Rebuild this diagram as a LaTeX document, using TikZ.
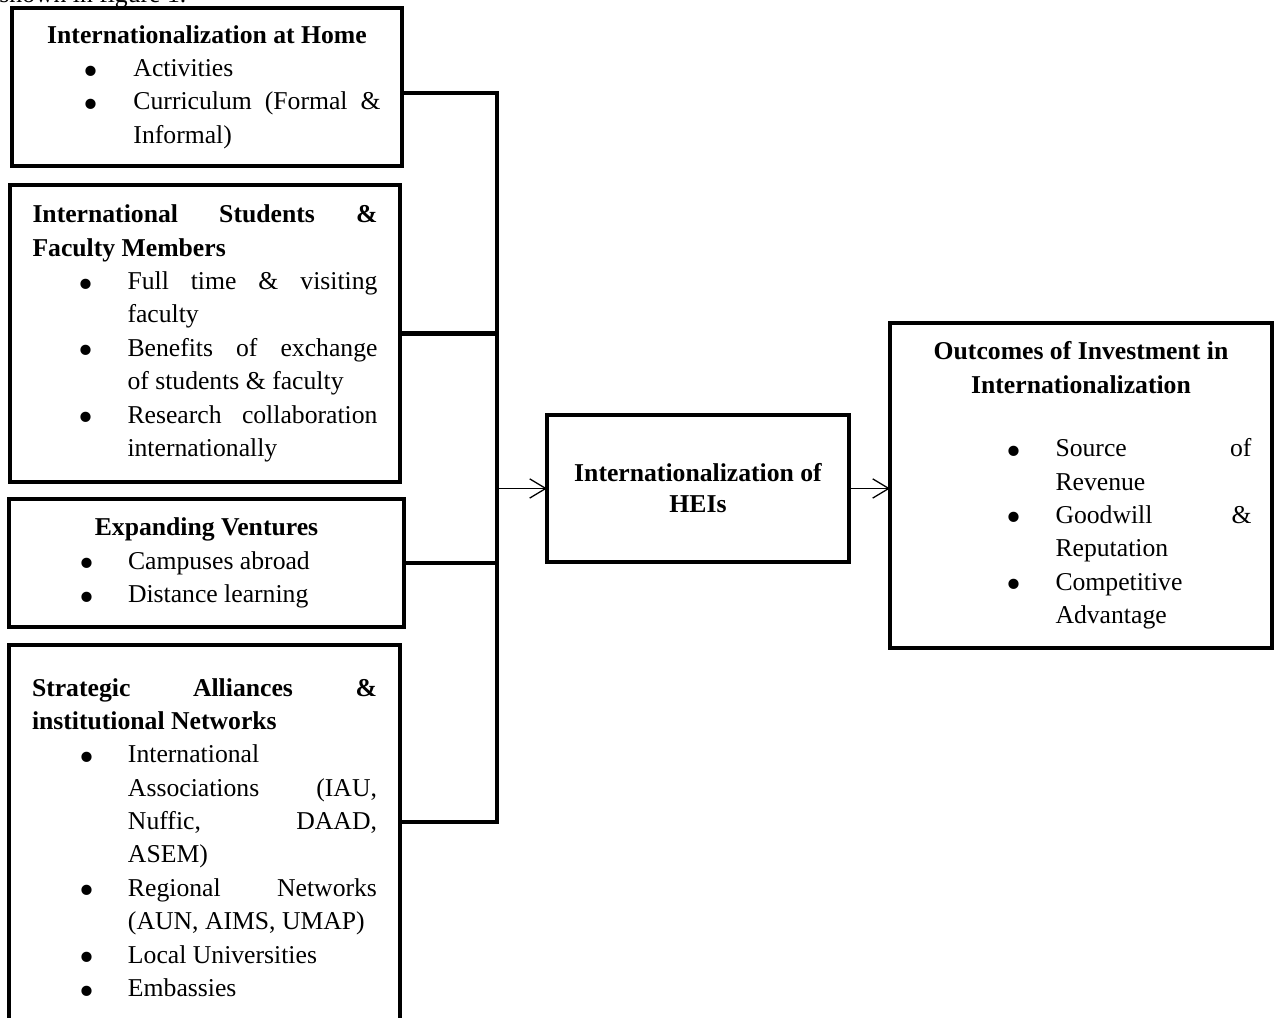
\documentclass[tikz,border=0pt]{standalone}
\usepackage{fontspec}
\setmainfont{Liberation Serif}
\usepackage{enumitem}
\usetikzlibrary{arrows.meta,positioning}
\newlength\px
\setlength\px{0.4673pt}
\newcommand{\fillline}[1]{\makebox[\linewidth][s]{#1}}
\newcommand{\boxtitle}[1]{\makebox[\linewidth][c]{\bfseries #1}}
\newcommand{\bigdot}{\smash{\raisebox{-4pt}{\fontsize{20pt}{20pt}\selectfont\textbullet}}}
\setlist[itemize]{label=\bigdot, nosep, labelsep=34\px, leftmargin=95\px}
\tikzset{
  factor/.style={draw, line width=2pt, anchor=north west, outer sep=0pt, inner xsep=0pt, inner ysep=0pt, align=justify, font=\fontsize{12pt}{15.6pt}\selectfont},
  link/.style={line width=1.9pt},
  arr/.style={line width=0.6pt, -{Straight Barb[length=7.5pt,width=9pt]}}
}

\begin{document}
\begin{tikzpicture}[x=0.4673pt, y=-0.4673pt]
  \useasboundingbox (0,0) rectangle (1274,1018);
  \node[anchor=base west, inner sep=0pt, font=\fontsize{12pt}{14pt}\selectfont] (cut) at (-1,3) {shown in figure 1.};

  % drivers
  \node[factor, minimum width=390\px, minimum height=158\px, text width=347\px] (home) at (12,8) {%
    \boxtitle{Internationalization at Home}
    \begin{itemize}[leftmargin=100\px, labelsep=35\px]
      \item Activities
      \item \fillline{Curriculum (Formal \&}\\Informal)
    \end{itemize}};
  \node[factor, minimum width=390\px, minimum height=297\px, text width=345\px] (staff) at (10,185) {%
    \fillline{\bfseries International Students \&}\\
    \textbf{Faculty Members}
    \begin{itemize}
      \item \fillline{Full time \& visiting}\\faculty
      \item \fillline{Benefits of exchange}\\of students \& faculty
      \item \fillline{Research collaboration}\\internationally
    \end{itemize}};
  \node[factor, minimum width=395\px, minimum height=128\px, text width=347\px] (ventures) at (9,499) {%
    \boxtitle{Expanding Ventures}
    \begin{itemize}
      \item Campuses abroad
      \item Distance learning
    \end{itemize}};
  \node[factor, minimum width=391\px, minimum height=385\px, text width=345\px] (alliance) at (9,645) {%
    \fillline{\bfseries Strategic Alliances \&}\\
    \textbf{institutional Networks}
    \begin{itemize}[leftmargin=96\px]
      \item International\\\fillline{Associations (IAU,}\\\fillline{Nuffic, DAAD,}\\ASEM)
      \item \fillline{Regional Networks}\\(AUN, AIMS, UMAP)
      \item Local Universities
      \item Embassies
    \end{itemize}};

  % centre and outcome
  \node[factor, minimum width=302\px, minimum height=147\px, align=center, font=\fontsize{12pt}{14.5pt}\selectfont\bfseries] (hei) at (547,415) {Internationalization of\\HEIs};
  \node[factor, minimum width=382\px, minimum height=325\px, text width=341\px] (out) at (890,323) {%
    \boxtitle{Outcomes of Investment in}\\
    \boxtitle{Internationalization}\par\vspace{14pt}
    \begin{itemize}[leftmargin=145\px, labelsep=34\px]
      \item \fillline{Source of}\\Revenue
      \item \fillline{Goodwill \&}\\Reputation
      \item Competitive\\Advantage
    \end{itemize}};

  % bracket joining the four drivers
  \coordinate (trunktop) at (497,93);
  \coordinate (trunkbot) at (497,822);
  \draw[link] (home.east |- trunktop) -- (trunktop) -- (trunkbot) -- (alliance.east |- trunkbot);
  \draw[link] (staff.east) -- (staff.east -| trunktop);
  \draw[link] (ventures.east) -- (ventures.east -| trunktop);

  \draw[arr] (trunktop |- hei.west) -- (hei.west);
  \draw[arr] (hei.east) -- (hei.east -| out.west);
\end{tikzpicture}
\end{document}
